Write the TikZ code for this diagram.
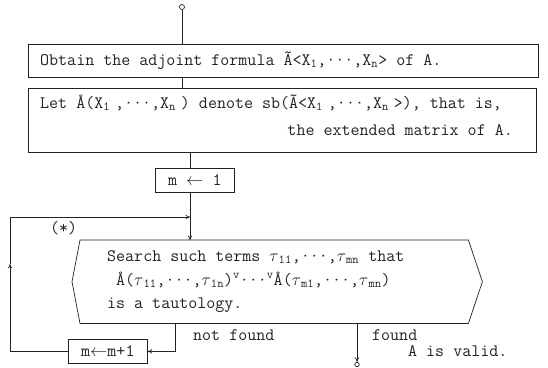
\documentclass[tikz,border=0pt]{standalone}
\usepackage{fontspec}
\usetikzlibrary{arrows.meta}

\definecolor{ink}{HTML}{222222}
\newcommand{\sbs}[1]{\textsubscript{#1}}
\newcommand{\sbw}[1]{\textsubscript{#1}\kern5pt}
\newcommand{\sps}[1]{\textsuperscript{#1}}
\newcommand{\tu}{$\tau$}
\newcommand{\la}{$\leftarrow$}

\tikzset{
  x=1pt, y=1pt,
  line/.style={draw=ink, line width=0.7pt},
  arr/.style={line, -{To[length=4.5pt,width=4.5pt]}},
  frame/.style={line, rectangle, inner sep=0pt, anchor=north west},
  txt/.style={text=ink, inner sep=0pt, font=\fontsize{17.5}{20}\ttfamily},
  dot/.style={line, circle, inner sep=0pt, minimum size=5pt},
}

\begin{document}
\begin{tikzpicture}
\useasboundingbox (0,0) rectangle (548,-367);

% entry point
\node[dot] (start) at (182,-7) {};

% the two statement boxes
\node[frame, minimum width=510, minimum height=33] (b1) at (28,-44) {};
\node[frame, minimum width=508, minimum height=64] (b2) at (28,-88) {};

\node[txt, anchor=base west] (t1) at (40,-65)
  {Obtain the adjoint formula Ã<X\sbs{1},···,X\sbs{n}> of A.};
\node[txt, anchor=base west] (t2) at (40,-108)
  {Let Å(X\sbw{1},···,X\sbw{n}) denote sb(Ã<X\sbw{1},···,X\sbw{n}>), that is,};
\node[txt, anchor=base east] (t3) at (513,-135)
  {the extended matrix of A.};

% initialisation box
\node[frame, minimum width=79, minimum height=24] (m1) at (155,-168) {};
\node[txt] (tm1) at (m1.center) {m \la{} 1};

% search step (hexagonal box)
\node[rectangle, inner sep=0pt, anchor=north west, minimum width=388, minimum height=83] (hex) at (80,-240) {};
\draw[line] (hex.north west) -- (hex.north east) -- ([xshift=14]hex.east)
  -- (hex.south east) -- (hex.south west) -- ([xshift=-8]hex.west) -- cycle;
\node[txt, anchor=base west] (s1) at (107,-261)
  {Search such terms \tu\sbs{11},···,\tu\sbs{mn} that};
\node[txt, anchor=base west] (s2) at (116,-285)
  {Å(\tu\sbs{11},···,\tu\sbs{1n})\sps{v}···\sps{v}Å(\tu\sbs{m1},···,\tu\sbs{mn})};
\node[txt, anchor=base west] (s3) at (107,-308) {is a tautology.};
\node[txt, anchor=base west] (star) at (50,-233) {(*)};

% increment box
\node[frame, minimum width=79, minimum height=24] (m2) at (68,-339) {};
\node[txt] (tm2) at (m2.center) {m\la{}m+1};

% end point
\node[dot, minimum size=4.5pt] (stop) at (357,-364.5) {};

% labels on the exits
\node[txt, anchor=base west] (nf) at (193,-340) {not found};
\node[txt, anchor=base west] (fd) at (372,-340) {found};
\node[txt, anchor=base west] (ok) at (408,-356) {A is valid.};

% routing points
\coordinate (j0) at (182,0);
\coordinate (j1) at (190,0);
\coordinate (nfc) at (175,0);
\coordinate (lc) at (10,0);
\coordinate (up) at (10,-264);
\coordinate (back) at (10,-217);

% connectors
\draw[line] (start) -- (start |- b1.north);
\draw[line] (b1.south -| j0) -- (b2.north -| j0);
\draw[line] (b2.south -| j1) -- (m1.north -| j1);
\draw[arr] (m1.south -| j1) -- (hex.north -| j1);
\draw[arr] (hex.south -| nfc) -- (nfc |- m2.east) -- (m2.east);
\draw[arr] (m2.west) -- (lc |- m2.west) -- (up);
\draw[arr] (up) -- (back) -- (back -| j1);
\draw[arr] (hex.south -| stop) -- (stop.north);
\end{tikzpicture}
\end{document}
